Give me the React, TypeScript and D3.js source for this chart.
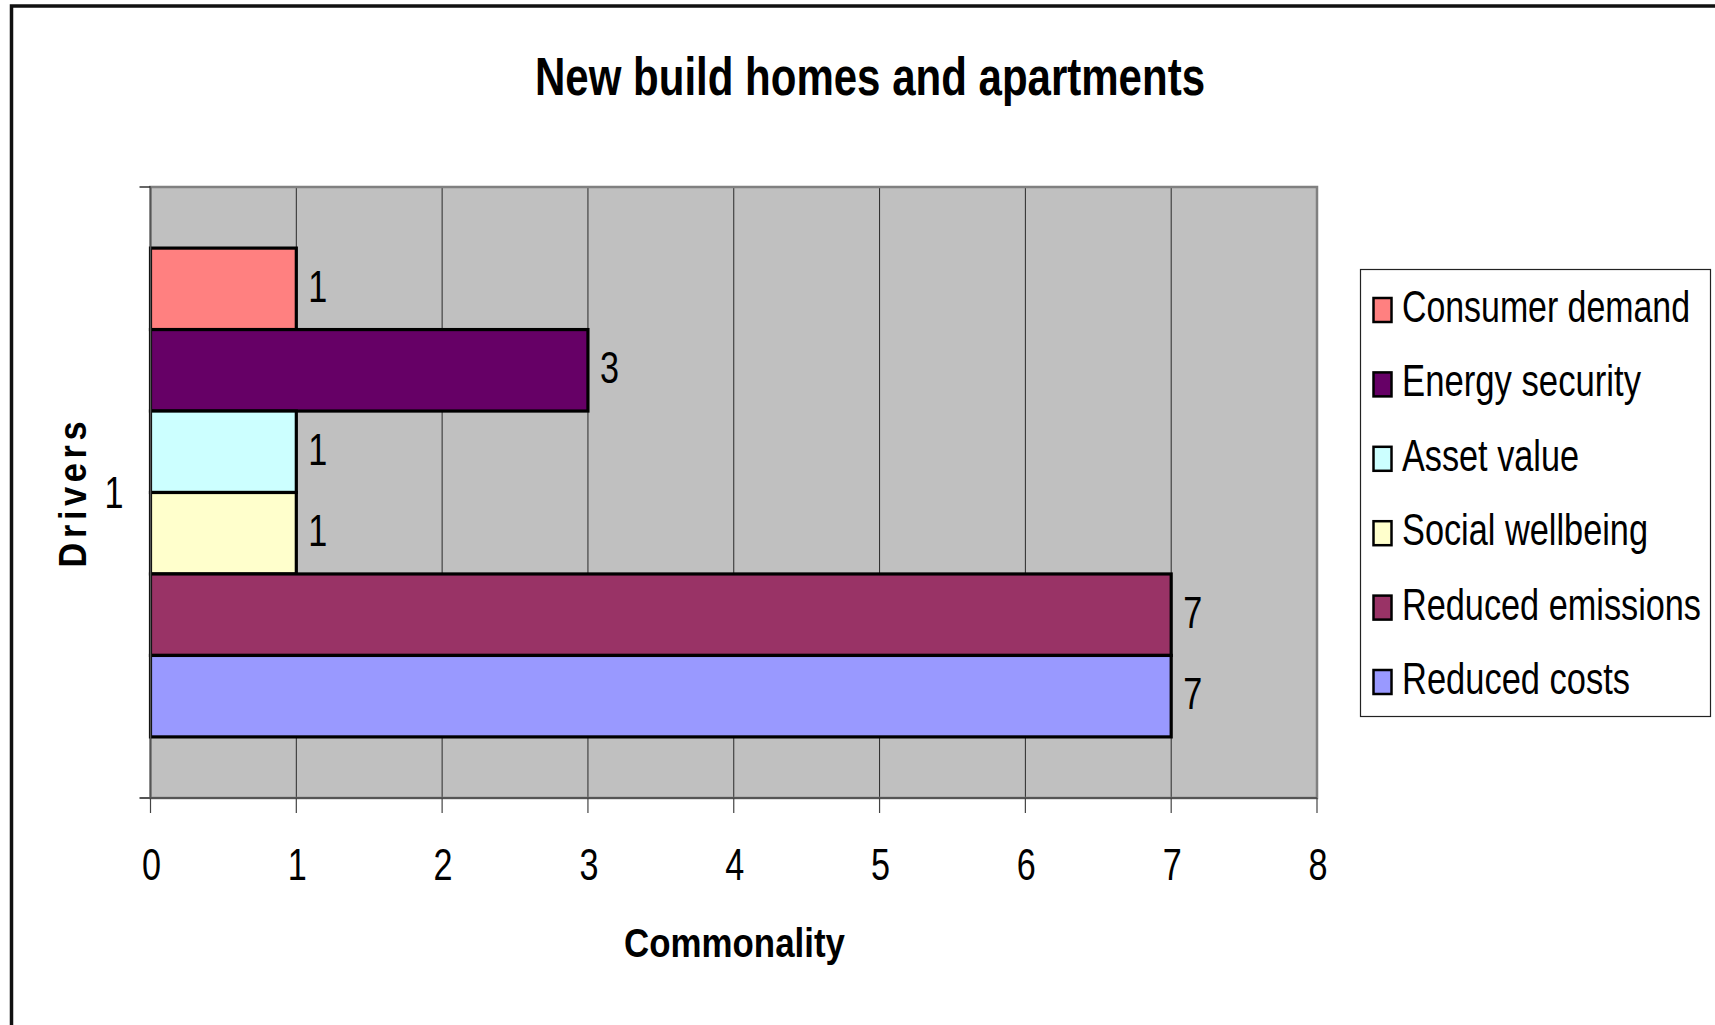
import React from "react";
import * as d3 from "d3";

const title = "New build homes and apartments";
const categories = ["1"];
// top-to-bottom order as drawn
const seriesNames = [
  "Consumer demand",
  "Energy security",
  "Asset value",
  "Social wellbeing",
  "Reduced emissions",
  "Reduced costs",
];
const seriesValues = [1, 3, 1, 1, 7, 7];
const seriesColors = ["#FF8080", "#660066", "#CCFFFF", "#FFFFCC", "#993366", "#9999FF"];
const xTicks = [0, 1, 2, 3, 4, 5, 6, 7, 8];
const legendWidths = [288, 239, 177, 246, 299, 228];
const xTitle = "Commonality";
const yTitle = "Drivers";

const W = 1715;
const H = 1025;
const plot = { left: 150.5, right: 1317, top: 187, bottom: 798 };
const FONT = "'Liberation Sans', Arial, sans-serif";
const SX = 0.76;

function NText(props: { x: number; y: number; size: number; anchor?: string; weight?: string; children: any }) {
  const { x, y, size, anchor = "start", weight = "normal", children } = props;
  return (
    <text
      transform={`translate(${x},${y}) scale(${SX},1)`}
      fontFamily={FONT}
      fontSize={size}
      fontWeight={weight}
      textAnchor={anchor}
      fill="#000"
    >
      {children}
    </text>
  );
}

export default function App() {
  const x = d3.scaleLinear().domain([0, 8]).range([plot.left, plot.right]);
  const cat = d3.scaleBand().domain(categories).range([plot.top, plot.bottom]).padding(0);
  const ser = d3
    .scaleBand()
    .domain(seriesNames)
    .range([cat("1")!, cat("1")! + cat.bandwidth()])
    .paddingInner(0)
    .paddingOuter(0.75);
  const bw = ser.bandwidth();

  return (
    <div style={{ position: "absolute", left: 0, top: 0 }}>
      <svg width={W} height={H} style={{ display: "block", background: "#fff" }}>
        {/* outer chart frame (cut off at right/bottom) */}
        <rect x={11.5} y={6} width={W + 20} height={H + 20} fill="#fff" stroke="#111" strokeWidth={3.5} />

        {/* title */}
        <text
          x={535}
          y={95}
          fontFamily={FONT}
          fontSize={54}
          fontWeight="bold"
          textLength={670}
          lengthAdjust="spacingAndGlyphs"
        >
          {title}
        </text>

        {/* plot area */}
        <rect
          x={plot.left}
          y={plot.top}
          width={plot.right - plot.left}
          height={plot.bottom - plot.top}
          fill="#C0C0C0"
        />
        {xTicks.slice(1, -1).map((t) => (
          <line key={"g" + t} x1={x(t)} x2={x(t)} y1={plot.top} y2={plot.bottom} stroke="#2a2a2a" strokeWidth={1} />
        ))}
        <rect
          x={plot.left}
          y={plot.top}
          width={plot.right - plot.left}
          height={plot.bottom - plot.top}
          fill="none"
          stroke="#808080"
          strokeWidth={2.5}
        />

        {/* bars */}
        {seriesNames.map((s, i) => (
          <rect
            key={s}
            x={x(0)}
            y={ser(s)!}
            width={x(seriesValues[i]) - x(0)}
            height={bw}
            fill={seriesColors[i]}
            stroke="#000"
            strokeWidth={3.2}
          />
        ))}

        {/* data labels */}
        {seriesNames.map((s, i) => (
          <NText key={"l" + s} x={x(seriesValues[i]) + 12} y={ser(s)! + bw / 2 + 13} size={45}>
            {seriesValues[i]}
          </NText>
        ))}

        {/* x axis */}
        <line x1={plot.left - 11} x2={plot.right} y1={plot.bottom} y2={plot.bottom} stroke="#555" strokeWidth={2} />
        {xTicks.map((t) => (
          <line key={"t" + t} x1={x(t)} x2={x(t)} y1={plot.bottom} y2={plot.bottom + 15} stroke="#444" strokeWidth={1.2} />
        ))}
        {xTicks.map((t) => (
          <NText key={"tl" + t} x={x(t) + 1} y={880} size={45} anchor="middle">
            {t}
          </NText>
        ))}

        {/* y axis ticks */}
        <line x1={plot.left - 11} x2={plot.left} y1={plot.top} y2={plot.top} stroke="#000" strokeWidth={1.2} />
        <line x1={plot.left} x2={plot.left} y1={plot.top} y2={plot.bottom} stroke="#555" strokeWidth={1.5} />
        {categories.map((c) => (
          <NText key={"c" + c} x={114} y={cat(c)! + cat.bandwidth() / 2 + 15} size={45} anchor="middle">
            {c}
          </NText>
        ))}

        {/* axis titles */}
        <text
          x={624}
          y={957}
          fontFamily={FONT}
          fontSize={41}
          fontWeight="bold"
          textLength={221}
          lengthAdjust="spacingAndGlyphs"
        >
          {xTitle}
        </text>
        <g transform={`translate(86,${(plot.top + plot.bottom) / 2 + 2}) rotate(-90) scale(0.88,1)`}>
          <text
            x={0}
            y={0}
            fontFamily={FONT}
            fontSize={39}
            fontWeight="bold"
            textAnchor="middle"
            textLength={166}
            lengthAdjust="spacing"
          >
            {yTitle}
          </text>
        </g>

        {/* legend */}
        <rect x={1360.5} y={269.5} width={350} height={447} fill="#fff" stroke="#222" strokeWidth={1.2} />
        {seriesNames.map((s, i) => {
          const base = 322 + i * 74.4;
          return (
            <g key={"lg" + s}>
              <rect x={1373.5} y={base - 24} width={18} height={24} fill={seriesColors[i]} stroke="#000" strokeWidth={2.5} />
              <text
                x={1402}
                y={base}
                fontFamily={FONT}
                fontSize={45}
                textLength={legendWidths[i]}
                lengthAdjust="spacingAndGlyphs"
              >
                {s}
              </text>
            </g>
          );
        })}
      </svg>
    </div>
  );
}
